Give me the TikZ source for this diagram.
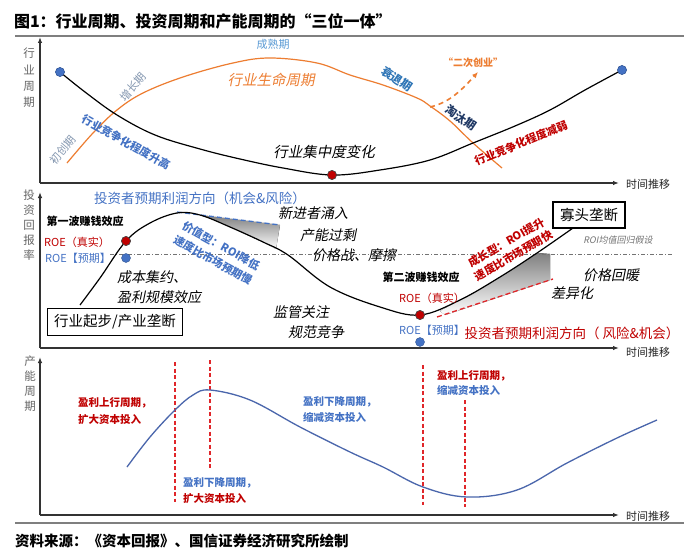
\documentclass[tikz,border=0pt]{standalone}
\usepackage{fontspec}
\setmainfont{Noto Sans CJK SC}
\newfontfamily\slfont[FakeSlant=0.2]{Noto Sans CJK SC}
\usetikzlibrary{arrows.meta}
\definecolor{orng}{HTML}{ED7D31}
\definecolor{lblue}{HTML}{5B9BD5}
\definecolor{gblue}{HTML}{8497B0}
\definecolor{mblue}{HTML}{4472C4}
\definecolor{tblue}{HTML}{2E75B6}
\definecolor{dred}{HTML}{C00000}
\definecolor{navy}{HTML}{1F3864}
\definecolor{cblue}{HTML}{4A66AC}
\definecolor{rdash}{HTML}{E0262A}
\definecolor{shade}{HTML}{D9D9D9}
\definecolor{rulegray}{HTML}{7F7F7F}
\begin{document}
\begin{tikzpicture}[x=1pt,y=-1pt,
  sz/.style 2 args={font=\fontsize{#1}{#2}\selectfont},
  bsz/.style 2 args={font=\fontsize{#1}{#2}\selectfont\bfseries},
  ssz/.style 2 args={font=\slfont\fontsize{#1}{#2}\selectfont},
  txt/.style={inner sep=0pt, outer sep=0pt},
  axisline/.style={line width=1.2pt, draw=black!80, -{Latex[length=6pt,width=4.5pt]}},
  ylab/.style={txt, text=black!60, align=center},
  tlab/.style={txt, anchor=west, text=black!85, sz={11}{13}},
  bdot/.style={circle, inner sep=0pt, minimum size=9pt, fill=mblue, draw=mblue!75!black, line width=0.4pt},
  rdot/.style={circle, inner sep=0pt, minimum size=9pt, fill=dred, draw=black!70, line width=0.6pt},
  curve/.style={line width=1.2pt},
  dashdot/.style={draw=black!55, line width=0.8pt, dash pattern=on 4pt off 2pt on 1pt off 2pt},
  vdash/.style={draw=rdash, line width=1.2pt, dash pattern=on 4pt off 2.5pt},
  boxed/.style={draw=black, line width=1.3pt, fill=white, inner sep=2pt, sz={14.5}{16}}
]
\useasboundingbox (0,0) rectangle (700,559);
\fill[white] (0,0) rectangle (700,559);

% ---------- title and rules ----------
\node[txt, anchor=west, bsz={16}{18}] (title) at (14,21) {图1：行业周期、投资周期和产能周期的“三位一体”};
\coordinate (rA) at (15,36);
\coordinate (rB) at (684,36);
\draw[rulegray, line width=2pt] (rA) -- (rB);
\coordinate (rC) at (15,523);
\coordinate (rD) at (684,523);
\draw[rulegray, line width=2pt] (rC) -- (rD);
\node[txt, anchor=west, bsz={14.5}{16}] (source) at (15,541) {资料来源：《资本回报》、国信证券经济研究所绘制};

% ---------- panel 1 ----------
\coordinate (o1) at (40,183);
\coordinate (y1) at (40,37);
\coordinate (x1) at (619,183);
\draw[axisline] (o1) -- (y1);
\draw[axisline] (o1) -- (x1);
\node[tlab] (tx1) at (626,184) {时间推移};
\node[ylab, sz={11.5}{16.3}] (yl1) at (29,78) {行\\业\\周\\期};

\draw[orng, curve] plot[smooth, tension=0.6] coordinates {(67,163) (93,133) (117,110) (143,93) (183,77) (233,63) (270,58) (317,63) (350,75) (383,85) (417,98) (430,106) (450,121) (473,143) (502,168)};
\draw[orng, line width=1.6pt, dash pattern=on 5pt off 4pt, -{Latex[length=6pt,width=5pt]}] (430,107) .. controls (448,103) and (460,92) .. (478,72);

\node[bdot] (d11) at (60,72) {};
\node[rdot] (d12) at (332,175) {};
\node[bdot] (d13) at (622,70) {};
\draw[black, curve] plot[smooth, tension=0.6] coordinates {(d11.center) (85,92) (117,115) (155,135) (200,149) (240,159) (283,168) (d12.center) (380,170) (430,160) (473,143) (515,126) (550,110) (585,90) (d13.center)};
\node[bdot] at (d11) {};
\node[rdot] at (d12) {};
\node[bdot] at (d13) {};

\node[txt, text=lblue, sz={11}{13}] (t11) at (273,44) {成熟期};
\node[txt, text=orng, ssz={14.5}{16}] (t12) at (271,80) {行业生命周期};
\node[txt, text=gblue, sz={11}{13}, rotate=48] (t13) at (133,87) {增长期};
\node[txt, text=gblue, sz={11}{13}, rotate=50] (t14) at (63,150) {初创期};
\node[txt, text=mblue, bsz={11}{13}, rotate=-29] (t15) at (126,142) {行业竞争化程度升高};
\node[txt, text=black, ssz={14.5}{16}] (t16) at (324,152) {行业集中度变化};
\node[txt, text=tblue, bsz={11.5}{13}, rotate=-34] (t17) at (397,79) {衰退期};
\node[txt, text=navy, bsz={11.5}{13}, rotate=-34] (t18) at (461,118) {淘汰期};
\node[txt, text=dred, bsz={11}{13}, rotate=22] (t19) at (521,143) {行业竞争化程度减弱};
\node[txt, text=orng, bsz={10}{12}] (t110) at (473,63) {“二次创业”};

% ---------- panel 2 ----------
\coordinate (o2) at (40,348);
\coordinate (y2) at (40,192);
\coordinate (x2) at (619,348);
\draw[axisline] (o2) -- (y2);
\draw[axisline] (o2) -- (x2);
\node[tlab] (tx2) at (626,352) {时间推移};
\node[ylab, sz={11.5}{15}] (yl2) at (29,225) {投\\资\\回\\报\\率};

% shaded areas
\fill[shade] (200,215) -- (280,225) -- (276,249) -- (263,242) -- (245,234) -- (230,227) -- (215,220) -- cycle;
\fill[shade] (440,311) -- (460,300) -- (480,289) -- (500,277) -- (520,265) -- (537,253) -- (550,254) -- (550,280) -- (445,315) -- cycle;

\coordinate (ddA) at (110,254);
\coordinate (ddB) at (673,254);
\draw[dashdot] (ddA) -- (ddB);

\coordinate (bdA) at (177,212);
\coordinate (bdB) at (280,225);
\draw[mblue, line width=1.3pt, dash pattern=on 5pt off 3pt] (bdA) -- (bdB);
\coordinate (rdA) at (437,317);
\coordinate (rdB) at (553,279);
\draw[rdash, line width=1.3pt, dash pattern=on 5pt off 3pt] (rdA) -- (rdB);

\node[boxed, minimum width=72pt, minimum height=26pt] (t214) at (589,215) {寡头垄断};
\node[rdot] (d21) at (126,241) {};
\node[bdot] (d22) at (126,258) {};
\node[rdot] (d23) at (420,315) {};
\node[bdot] (d24) at (420,342) {};
\draw[black, curve] plot[smooth, tension=0.6] coordinates {(80,305) (100,278) (d21.center) (150,223) (177,213) (200,215) (230,227) (263,242) (288,255) (330,287) (380,307) (d23.center) (460,300) (500,277) (537,253) (573,228)};
\node[rdot] at (d21) {};
\node[rdot] at (d23) {};

\node[txt, text=mblue, sz={13.5}{16}] (t21) at (200,198) {投资者预期利润方向（机会\&风险）};
\node[txt, text=black, bsz={11}{13}] (t22) at (85,221) {第一波赚钱效应};
\node[txt, text=dred, sz={11}{13}] (t23) at (77,242) {ROE（真实）};
\node[txt, text=mblue, sz={11}{13}] (t24) at (78,258) {ROE【预期】};
\node[txt, text=mblue, bsz={11}{16.5}, rotate=-29, align=center] (t25) at (217,253) {价值型：ROI降低\\速度比市场预期慢};
\node[txt, anchor=west, ssz={14}{20}, align=left] (t26) at (117,287) {成本集约、\\盈利规模效应};
\node[boxed, minimum width=135pt, minimum height=27pt] (t27) at (115,322) {行业起步/产业垄断};
\node[txt, ssz={14}{16}] (t28) at (313,213) {新进者涌入};
\node[txt, ssz={14}{16}] (t29) at (328,235) {产能过剩};
\node[txt, ssz={14}{16}] (t210) at (354,255) {价格战、摩擦};
\node[txt, text=black, bsz={11}{13}] (t211) at (421,277) {第二波赚钱效应};
\node[txt, text=dred, sz={11}{13}] (t212) at (432,298) {ROE（真实）};
\node[txt, text=mblue, sz={11}{13}] (t213) at (432,330) {ROE【预期】};
\node[txt, ssz={14}{16}] (t215) at (301,312) {监管关注};
\node[txt, ssz={14}{16}] (t216) at (316,332) {规范竞争};
\node[txt, text=dred, bsz={11}{15}, rotate=30, align=center] (t217) at (510,249) {成长型：ROI提升\\速度比市场预期快};
\node[txt, text=black!55, ssz={9}{11}] (t218) at (618,240) {ROI均值回归假设};
\node[txt, ssz={14}{16}] (t219) at (611,275) {价格回暖};
\node[txt, ssz={14}{16}] (t220) at (572,293) {差异化};
\node[txt, text=dred, sz={13.5}{16}] (t221) at (572,333) {投资者预期利润方向（ 风险\&机会）};

% ---------- panel 3 ----------
\coordinate (o3) at (40,515);
\coordinate (y3) at (40,357);
\coordinate (x3) at (619,515);
\draw[axisline] (o3) -- (y3);
\draw[axisline] (o3) -- (x3);
\node[tlab] (tx3) at (626,516) {时间推移};
\node[ylab, sz={11.5}{15}] (yl3) at (30,384) {产\\能\\周\\期};

\coordinate (v1a) at (175,362); \coordinate (v1b) at (175,502);
\coordinate (v2a) at (210,360); \coordinate (v2b) at (210,470);
\coordinate (v3a) at (423,365); \coordinate (v3b) at (423,505);
\coordinate (v4a) at (465,400); \coordinate (v4b) at (465,507);
\draw[vdash] (v1a) -- (v1b);
\draw[vdash] (v2a) -- (v2b);
\draw[vdash] (v3a) -- (v3b);
\draw[vdash] (v4a) -- (v4b);

\draw[cblue, line width=1.3pt] plot[smooth, tension=0.6] coordinates {(127,467) (150,437) (175,410) (193,395) (210,390) (250,400) (300,427) (350,452) (383,467) (423,487) (467,497) (517,490) (567,463) (617,438) (657,420)};

\node[txt, anchor=west, align=left, bsz={10.5}{16.5}, text=dred] (t31) at (78,411) {盈利上行周期，\\扩大资本投入};
\node[txt, anchor=west, align=left, bsz={10.5}{16}] (t32) at (183,491) {\textcolor{mblue}{盈利下降周期，}\\\textcolor{dred}{扩大资本投入}};
\node[txt, anchor=west, align=left, bsz={10.5}{16}, text=mblue] (t33) at (303,410) {盈利下降周期，\\缩减资本投入};
\node[txt, anchor=west, align=left, bsz={10.5}{15.5}] (t34) at (437,383) {\textcolor{dred}{盈利上行周期，}\\\textcolor{mblue}{缩减资本投入}};
\end{tikzpicture}
\end{document}
